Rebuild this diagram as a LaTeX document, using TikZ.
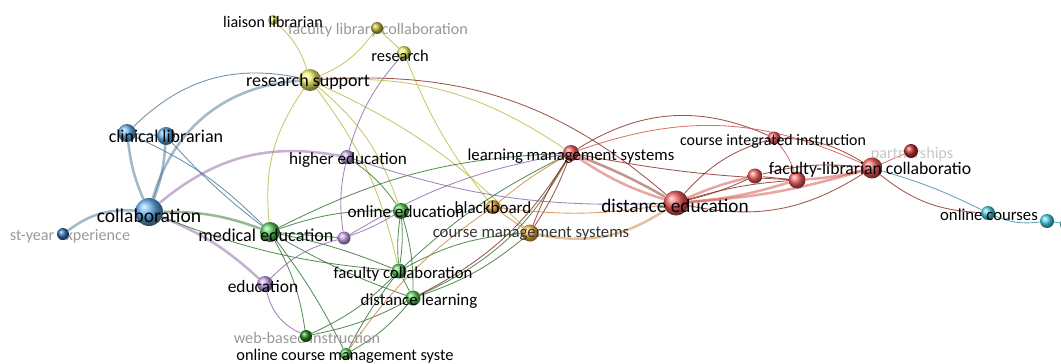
\documentclass[tikz,border=0pt]{standalone}
\usepackage{fontspec}
\setmainfont{Carlito}
\usetikzlibrary{backgrounds}

\definecolor{kwyel}{RGB}{240,240,110}
\definecolor{kwoli}{RGB}{190,185,50}
\definecolor{kwblu}{RGB}{100,175,235}
\definecolor{kwnav}{RGB}{45,110,175}
\definecolor{kwgrn}{RGB}{85,200,85}
\definecolor{kwdgr}{RGB}{30,130,30}
\definecolor{kwpur}{RGB}{195,160,230}
\definecolor{kworg}{RGB}{250,180,70}
\definecolor{kwred}{RGB}{240,95,95}
\definecolor{kwdrd}{RGB}{190,45,45}
\definecolor{kwcya}{RGB}{75,205,225}
% link colours
\definecolor{lnyel}{RGB}{185,185,60}
\definecolor{lnblu}{RGB}{70,115,145}
\definecolor{lngrn}{RGB}{45,115,45}
\definecolor{lnpur}{RGB}{140,100,165}
\definecolor{lnbrn}{RGB}{135,40,30}
\definecolor{lnorg}{RGB}{205,130,60}
\definecolor{lnred}{RGB}{205,80,70}
\definecolor{lntea}{RGB}{60,140,160}

\begin{document}
\begin{tikzpicture}[x=0.025cm, y=-0.025cm,
bub/.style 2 args={circle, inner sep=0pt, minimum size=#2*0.025cm, ball color=#1},
lbl/.style={inner sep=0pt, font=\fontsize{#1}{#1}\selectfont},
lbl/.default=12pt,
dim/.style={lbl=#1, text=black!40},
dim/.default=11.5pt,
lnk/.style={draw=#1, line width=0.6pt, opacity=0.8},
fat/.style={draw=#1, line width=1.8pt, opacity=0.5}]

\useasboundingbox (0,0) rectangle (1061,363);
\clip (0,0) rectangle (1061,363);

% bubbles
\node[bub={kwyel}{10}] (liais) at (273,20) {};
\node[bub={kwoli}{12}] (fllc) at (377,28) {};
\node[bub={kwyel}{14}] (resea) at (404,53) {};
\node[bub={kwyel}{22}] (rsup) at (310,80) {};
\node[bub={kwblu}{18}] (clinA) at (127,133) {};
\node[bub={kwblu}{18}] (clinB) at (166,136) {};
\node[bub={kwblu}{28}] (collab) at (149,212) {};
\node[bub={kwnav}{12}] (fyexp) at (63,234) {};
\node[bub={kwgrn}{20}] (medu) at (270,232) {};
\node[bub={kwpur}{14}] (hedu) at (347,157) {};
\node[bub={kwpur}{13}] (purp) at (344,238) {};
\node[bub={kwpur}{16}] (educ) at (265,284) {};
\node[bub={kwgrn}{16}] (oedu) at (401,211) {};
\node[bub={kwgrn}{15}] (fcol) at (399,271) {};
\node[bub={kwgrn}{15}] (dlrn) at (413,298) {};
\node[bub={kwdgr}{12}] (webi) at (306,336) {};
\node[bub={kwgrn}{12}] (ocms) at (346,354) {};
\node[bub={kworg}{14}] (bboard) at (493,207) {};
\node[bub={kworg}{17}] (cms) at (530,233) {};
\node[bub={kwred}{16}] (lms) at (571,153) {};
\node[bub={kwred}{25}] (dedu) at (676,203) {};
\node[bub={kwred}{13}] (cii) at (774,138) {};
\node[bub={kwred}{15}] (redA) at (755,176) {};
\node[bub={kwred}{17}] (redB) at (797,180) {};
\node[bub={kwred}{21}] (flcol) at (872,168) {};
\node[bub={kwdrd}{14}] (partn) at (911,151) {};
\node[bub={kwcya}{14}] (ocour) at (988,213) {};
\node[bub={kwcya}{14}] (cyA) at (1047,221) {};
\node[bub={kwcya}{14}] (cyB) at (1067,224) {};

\begin{scope}[on background layer]
% yellow links
\draw[lnk=lnyel] (liais) to[bend left=15] (rsup);
\draw[lnk=lnyel] (fllc) to[bend left=15] (rsup);
\draw[lnk=lnyel] (fllc) -- (resea);
\draw[lnk=lnpur] (resea) to[bend right=12] (hedu);
\draw[lnk=lnyel] (resea) to[bend right=8] (bboard);
\draw[lnk=lnblu] (rsup) to[bend right=28] (clinA);
\draw[fat=lnblu] (rsup) to[bend right=35] (collab);
\draw[lnk=lnyel] (rsup) to[bend right=20] (medu);
\draw[lnk=lnyel] (rsup) to[bend left=15] (oedu);
\draw[lnk=lnyel] (rsup) to[bend left=12] (fcol);
\draw[lnk=lnyel] (rsup) to[bend left=18] (lms);
\draw[lnk=lnyel] (rsup) to[bend left=10] (cms);
\draw[lnk=lnbrn] (rsup) to[bend left=22] (dedu);

% blue links
\draw[lnk=lnblu] (clinA) -- (clinB);
\draw[fat=lnblu] (clinA) to[bend right=8] (collab);
\draw[fat=lnblu] (clinB) to[bend left=8] (collab);
\draw[lnk=lnblu] (clinA) to[bend left=10] (medu);
\draw[lnk=lnblu] (clinB) to[bend right=5] (medu);
\draw[fat=lnblu] (collab) to[bend right=20] (fyexp);
\draw[fat=lngrn] (collab) to[bend left=10] (medu);
\draw[fat=lnpur] (collab) to[bend left=25] (hedu);
\draw[fat=lnpur] (collab) to[bend left=10] (educ);
\draw[lnk=lngrn] (collab) to[bend right=8] (fcol);

% green links
\draw[lnk=lngrn] (medu) to[bend left=12] (lms);
\draw[lnk=lngrn] (medu) to[bend left=10] (oedu);
\draw[lnk=lngrn] (medu) -- (purp);
\draw[lnk=lngrn] (medu) to[bend left=5] (fcol);
\draw[lnk=lngrn] (medu) to[bend right=5] (dlrn);
\draw[lnk=lngrn] (medu) to[bend left=10] (webi);
\draw[lnk=lngrn] (medu) to[bend left=5] (ocms);
\draw[lnk=lngrn] (oedu) to[bend right=6] (fcol);
\draw[lnk=lngrn] (oedu) to[bend left=6] (fcol);
\draw[lnk=lngrn] (oedu) to[bend left=8] (dlrn);
\draw[lnk=lngrn] (oedu) to[bend right=10] (hedu);
\draw[lnk=lnpur] (oedu) to[bend left=5] (purp);
\draw[lnk=lngrn] (fcol) -- (dlrn);
\draw[lnk=lngrn] (fcol) to[bend left=10] (webi);
\draw[lnk=lngrn] (fcol) to[bend right=5] (ocms);
\draw[lnk=lngrn] (dlrn) to[bend left=8] (webi);
\draw[lnk=lngrn] (dlrn) to[bend left=10] (ocms);
\draw[lnk=lngrn] (fcol) to[bend left=12] (cms);
\draw[lnk=lngrn] (dlrn) to[bend right=10] (cms);
\draw[lnk=lngrn] (dlrn) to[bend right=18] (lms);
\draw[lnk=lngrn] (fcol) to[bend left=8] (lms);
\draw[lnk=lnpur] (educ) to[bend right=25] (webi);

% purple links
\draw[lnk=lnpur] (educ) to[bend left=15] (purp);
\draw[lnk=lnpur] (hedu) to[bend right=10] (purp);
\draw[lnk=lnpur] (hedu) to[bend right=10] (dedu);
\draw[lnk=lnpur] (purp) to[bend left=10] (lms);

% orange links
\draw[lnk=lnorg] (bboard) -- (cms);
\draw[lnk=lnorg] (bboard) to[bend left=5] (lms);
\draw[lnk=lnbrn] (cms) to[bend left=6] (lms);
\draw[lnk=lnbrn] (cms) to[bend right=6] (lms);
\draw[fat=lnorg] (cms) to[bend right=22] (dedu);
\draw[lnk=lnorg] (bboard) to[bend right=8] (dedu);
\draw[lnk=lnorg] (bboard) to[bend right=10] (ocms);
\draw[lnk=lnbrn] (lms) to[bend left=15] (dlrn);

% red links
\draw[fat=lnbrn] (lms) to[bend left=4] (dedu);
\draw[fat=lnred] (lms) to[bend right=8] (dedu);
\draw[lnk=lnbrn] (lms) to[bend left=28] (cii);
\draw[lnk=lnred] (lms) to[bend left=22] (flcol);
\draw[lnk=lnbrn] (lms) to[bend right=4] (redB);
\draw[lnk=lnbrn] (dedu) to[bend left=15] (cii);
\draw[fat=lnred] (dedu) to[bend left=5] (redA);
\draw[lnk=lnbrn] (dedu) to[bend right=5] (redA);
\draw[fat=lnred] (dedu) to[bend right=6] (redB);
\draw[lnk=lnbrn] (dedu) to[bend left=6] (redB);
\draw[lnk=lnbrn] (dedu) to[bend right=22] (flcol);
\draw[fat=lnred] (dedu) to[bend right=6] (flcol);
\draw[lnk=lnred] (cii) to[bend left=10] (redB);
\draw[lnk=lnbrn] (cii) to[bend left=15] (flcol);
\draw[lnk=lnbrn] (redA) -- (redB);
\draw[fat=lnred] (redB) to[bend right=5] (flcol);
\draw[lnk=lnbrn] (redA) to[bend left=10] (flcol);
\draw[lnk=lnred] (flcol) -- (partn);
\draw[lnk=lnbrn] (flcol) to[bend right=18] (ocour);

% cyan links
\draw[lnk=lntea] (flcol) to[bend left=5] (ocour);
\draw[lnk=lntea] (ocour) to[bend right=15] (cyA);
\draw[lnk=lntea] (cyA) -- (cyB);

% faded labels
\node[dim] (tfllc) at (378,30) {faculty library collaboration};
\node[dim] (twebi) at (307,338) {web-based instruction};
\node[dim] (tfyexp) at (70,236) {st-year experience};
\node[dim=11.5pt, text=black!22] (tpartn) at (912,154) {partnerships};
\end{scope}

% labels
\node[lbl=11.4pt] (tliais) at (273,22) {liaison librarian};
\node[lbl=11.7pt] (tresea) at (400,56) {research};
\node[lbl=12.8pt] (trsup) at (308,82) {research support};
\node[lbl=12.8pt] (tclin) at (166,136) {clinical librarian};
\node[lbl=13.9pt] (tcollab) at (149,216) {collaboration};
\node[lbl=12.2pt] (thedu) at (348,160) {higher education};
\node[lbl=12.9pt] (tmedu) at (266,235) {medical education};
\node[lbl=12.4pt] (teduc) at (263,287) {education};
\node[lbl=12.2pt] (toedu) at (406,212) {online education};
\node[lbl=11.9pt] (tfcol) at (403,274) {faculty collaboration};
\node[lbl] (tdlrn) at (419,301) {distance learning};
\node[lbl=11.6pt] (tocms) at (345,356) {online course management syste};
\node[lbl=12.1pt] (tbboard) at (493,208) {blackboard};
\node[lbl=11.9pt, text=black!80] (tcms) at (531,234) {course management systems};
\node[lbl=11.9pt] (tlms) at (571,156) {learning management systems};
\node[lbl=13.7pt] (tdedu) at (675,206) {distance education};
\node[lbl=11.3pt] (tcii) at (773,141) {course integrated instruction};
\node[lbl=12.6pt] (tflcol) at (870,170) {faculty-librarian collaboratio};
\node[lbl=11.9pt] (tocour) at (989,215) {online courses};

\end{tikzpicture}
\end{document}
